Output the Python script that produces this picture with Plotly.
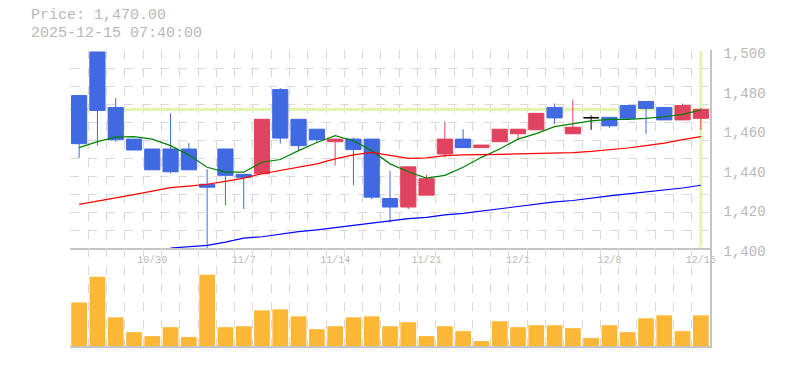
import plotly.graph_objects as go

# ---------------- data ----------------
dates = ["10/24", "10/27", "10/28", "10/29", "10/30", "10/31", "11/4", "11/5", "11/6", "11/7",
         "11/10", "11/11", "11/12", "11/13", "11/14", "11/17", "11/18", "11/19", "11/20", "11/21",
         "11/25", "11/26", "11/27", "11/28", "12/1", "12/2", "12/3", "12/4", "12/5", "12/8",
         "12/9", "12/10", "12/11", "12/12", "12/15"]
tick_labels = ["10/30", "11/7", "11/14", "11/21", "12/1", "12/8", "12/15"]

open_ = [1477, 1499, 1471, 1455, 1450, 1450, 1450, 1432.2, 1450, 1437.2,
         1437.5, 1480, 1465, 1460, 1453.7, 1455, 1455, 1425, 1420.7, 1426.7,
         1447.5, 1455, 1450.7, 1453.7, 1457.7, 1459.7, 1471, 1457.7, 1465.8, 1466,
         1472, 1474, 1471, 1464.7, 1465.5]
high = [1477, 1499, 1475.8, 1455, 1450, 1468, 1453, 1439.8, 1450, 1437.2,
        1465, 1480.8, 1465, 1460, 1455, 1455.8, 1455, 1439, 1441, 1437,
        1464, 1460, 1452, 1460, 1460, 1468, 1473, 1475, 1467, 1466,
        1472, 1474, 1471, 1473, 1470.8]
low = [1445.5, 1451.7, 1453.7, 1449.5, 1439.5, 1437.7, 1439.5, 1400, 1421.7, 1419.7,
       1437.5, 1452.7, 1449.3, 1453.3, 1441.7, 1431.7, 1424.7, 1412.8, 1419.7, 1426.7,
       1445.7, 1450.7, 1450.7, 1453.7, 1454.7, 1459.7, 1462.7, 1457.7, 1459.7, 1460.7,
       1465.5, 1457.7, 1464.7, 1464.7, 1459.7]
close = [1452.7, 1469.5, 1454.7, 1449.5, 1439.5, 1438.5, 1439.5, 1430.7, 1436.7, 1435.7,
         1465, 1455.5, 1451.7, 1454.7, 1455, 1449.7, 1425.7, 1420.7, 1441, 1435,
         1455, 1450.7, 1452, 1460, 1460, 1468, 1465.7, 1461, 1465.8, 1461.7,
         1465.5, 1470.5, 1464.7, 1472, 1470]

ma_short = [1450.7, 1453.7, 1456, 1456.3, 1455, 1451.7, 1447, 1440.8, 1438.3, 1438.3,
            1443.3, 1444.7, 1449.2, 1453.3, 1456.7, 1454.2, 1449.2, 1442.5, 1438.5, 1435.3,
            1436.7, 1440.8, 1445.8, 1450, 1455, 1457.8, 1461.3, 1462.8, 1464.2, 1465,
            1465, 1465.5, 1466.3, 1467.5, 1469.7]
ma_mid = [1422, 1423.8, 1425.3, 1427, 1428.7, 1430.5, 1431.3, 1432.2, 1433.7, 1435.3,
          1437.5, 1439.2, 1440.8, 1442.5, 1445, 1447, 1448.3, 1446.7, 1445.3, 1445.5,
          1446.7, 1447, 1447, 1447.3, 1447.5, 1447.7, 1448, 1448.2, 1448.8, 1449.5,
          1450.5, 1451.7, 1453, 1454.7, 1456.3]
ma_long = [None, None, None, None, None, 1400, 1400.5, 1401.3, 1403, 1405,
           1405.7, 1407, 1408.3, 1409.2, 1410.3, 1411.3, 1412.3, 1413.7, 1414.8, 1415.5,
           1416.7, 1417.5, 1418.7, 1419.7, 1420.8, 1422, 1423.3, 1424, 1425.3, 1426.3,
           1427.3, 1428.3, 1429.2, 1430.3, 1431.7]

volume = [44, 70, 29, 14, 10, 19, 9, 72, 19, 20,
          36, 37, 30, 17, 20, 29, 30, 20, 24, 10,
          20, 15, 5, 25, 19, 21, 21, 18, 8, 21,
          14, 28, 31, 15, 31]

current_price = 1470.00
timestamp = "2025-12-15 07:40:00"

# ---------------- styles ----------------
UP = "#E0435F"
DOWN = "#4169E1"
GRID = "#d9d9d9"
AXIS = "#c4c4c4"
TXT = "#b8b8b8"
MONO = "Liberation Mono, DejaVu Sans Mono, monospace"

idx = list(range(len(dates)))
normal = [i for i in idx if open_[i] != close[i]]
doji = [i for i in idx if open_[i] == close[i]]

fig = go.Figure()

fig.add_trace(go.Bar(x=idx, y=volume, width=0.86, marker=dict(color="#FBB735", line=dict(width=0)),
                     xaxis="x2", yaxis="y2", hoverinfo="skip"))

fig.add_trace(go.Candlestick(
    x=normal, open=[open_[i] for i in normal], high=[high[i] for i in normal],
    low=[low[i] for i in normal], close=[close[i] for i in normal],
    increasing=dict(line=dict(color=UP, width=1), fillcolor=UP),
    decreasing=dict(line=dict(color=DOWN, width=1), fillcolor=DOWN),
    whiskerwidth=0, xaxis="x", yaxis="y"))

fig.add_trace(go.Candlestick(
    x=doji, open=[open_[i] for i in doji], high=[high[i] for i in doji],
    low=[low[i] for i in doji], close=[close[i] for i in doji],
    increasing=dict(line=dict(color="black", width=1), fillcolor="black"),
    decreasing=dict(line=dict(color="black", width=1), fillcolor="black"),
    whiskerwidth=0, xaxis="x", yaxis="y"))

for series, col in [(ma_short, "#008000"), (ma_mid, "#ff0000"), (ma_long, "#0000ff")]:
    fig.add_trace(go.Scatter(x=idx, y=series, mode="lines", line=dict(color=col, width=1.2),
                             xaxis="x", yaxis="y", hoverinfo="skip"))

n = len(dates)
last = n - 1
fig.add_shape(type="line", xref="x", yref="y", x0=-0.5, x1=n - 0.5, y0=current_price, y1=current_price,
              line=dict(color="#E2F5B0", width=3), layer="between")
fig.add_shape(type="line", xref="x", yref="y", x0=last, x1=last, y0=1400.5, y1=1499.5,
              line=dict(color="#E2F5B0", width=3), layer="between")

tickvals = [dates.index(t) for t in tick_labels]

xcommon = dict(range=[-0.5, n - 0.5], showgrid=False, zeroline=False, showline=True,
               linecolor=AXIS, linewidth=1.5,
               minor=dict(tick0=-0.5, dtick=1, showgrid=True, gridcolor=GRID, griddash="dash", gridwidth=1))

fig.update_layout(
    width=785, height=370,
    margin=dict(l=70, r=75, t=50, b=21),
    paper_bgcolor="white", plot_bgcolor="white",
    showlegend=False,
    boxgap=0.17, boxgroupgap=0,
    xaxis=dict(**xcommon, anchor="y", tickmode="array", tickvals=tickvals, ticktext=tick_labels,
               ticks="", ticklabelstandoff=1,
               tickfont=dict(family=MONO, size=10, color=TXT), rangeslider=dict(visible=False)),
    yaxis=dict(domain=[0.331, 1], range=[1400, 1500], side="right", anchor="x",
               showgrid=False, zeroline=False, showline=True, linecolor=AXIS, linewidth=1.5,
               tickmode="array", tickvals=[1400, 1420, 1440, 1460, 1480, 1500],
               ticktext=["1,400", "1,420", "1,440", "1,460", "1,480", "1,500"],
               ticks="", ticklabelstandoff=9, ticklabelshift=3,
               tickfont=dict(family=MONO, size=14, color=TXT),
               minor=dict(tick0=1400, dtick=100 / 11, showgrid=True, gridcolor=GRID, griddash="dash", gridwidth=1)),
    xaxis2=dict(**xcommon, anchor="y2", matches="x", showticklabels=False, ticks=""),
    yaxis2=dict(domain=[0, 0.331], range=[0, 99], side="right", anchor="x2",
                showgrid=False, zeroline=False, showline=True, linecolor=AXIS, linewidth=1.5,
                showticklabels=False, ticks=""),
    annotations=[
        dict(text=f"Price: {current_price:,.2f}", xref="paper", yref="paper", x=-0.0645, y=1.1155,
             xanchor="left", yanchor="middle", showarrow=False, font=dict(family=MONO, size=15, color=TXT)),
        dict(text=timestamp, xref="paper", yref="paper", x=-0.0645, y=1.0565,
             xanchor="left", yanchor="middle", showarrow=False, font=dict(family=MONO, size=15, color=TXT)),
    ],
)

fig.write_html("out.html", config={"displayModeBar": False},
               post_script="document.body.style.margin='0';document.body.style.overflow='hidden';")
